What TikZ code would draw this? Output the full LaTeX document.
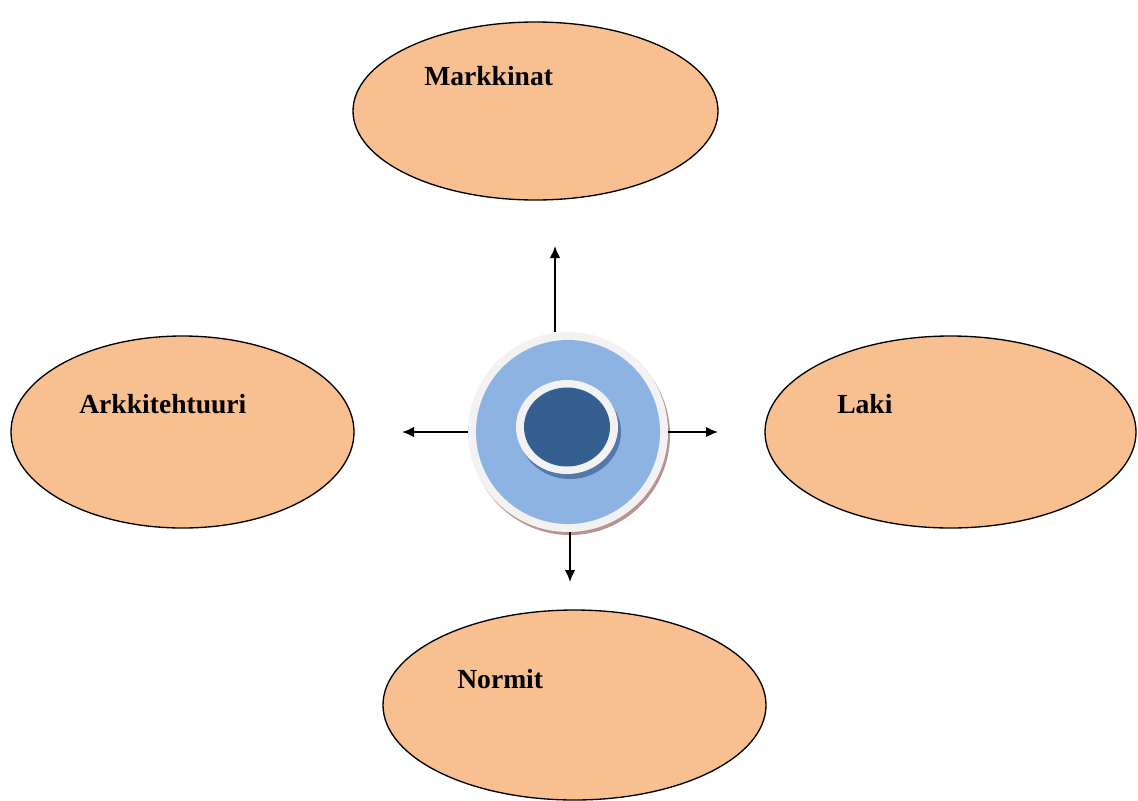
\documentclass[tikz,border=0pt]{standalone}
\usepackage{fontspec}
\setmainfont{Liberation Serif}
\usetikzlibrary{shapes.geometric,arrows.meta}

\definecolor{peach}{RGB}{248,192,144}
\definecolor{ringblue}{RGB}{141,179,226}
\definecolor{coreblue}{RGB}{54,95,145}
\definecolor{ringgray}{RGB}{242,242,242}
\definecolor{shadowred}{RGB}{185,145,145}
\definecolor{coreshadow}{RGB}{85,120,170}

\tikzset{
  bubble/.style={ellipse, draw=black, line width=1pt, fill=peach, inner sep=0pt, outer sep=0pt},
  tag/.style={anchor=base west, inner sep=0.75pt, font=\fontsize{20.7}{24}\selectfont\bfseries},
  disc/.style={ellipse, inner sep=0pt, outer sep=0pt},
  ray/.style={-{Latex[length=9pt,width=8pt]}, line width=1.5pt}
}

\begin{document}
\begin{tikzpicture}[x=0.75pt,y=0.75pt,yscale=-1,xscale=1]
\useasboundingbox (0,0) rectangle (1138,800);

% outer bubbles
\node (markkinat) [bubble, minimum width=273.75pt, minimum height=133.5pt] at (535.5,111) {};
\node (arkkitehtuuri) [bubble, minimum width=257.25pt, minimum height=144pt] at (182.5,432) {};
\node (laki) [bubble, minimum width=278.25pt, minimum height=144pt] at (950.5,432) {};
\node (normit) [bubble, minimum width=287.25pt, minimum height=142.5pt] at (574.5,705) {};

% text in bubbles
\node (markkinatlbl) [tag] at (423,85) {Markkinat};
\node (arkkitehtuurilbl) [tag] at (78,413) {Arkkitehtuuri};
\node (lakilbl) [tag] at (836,413) {Laki};
\node (normitlbl) [tag] at (456,688) {Normit};

% hub in the middle
\node (hubshadow) [disc, fill=shadowred, minimum width=150pt, minimum height=150pt] at (570,435) {};
\node (hub) [disc, fill=ringgray, minimum width=150pt, minimum height=150pt] at (568,432) {};
\node (hubring) [disc, fill=ringblue, minimum width=138pt, minimum height=138pt] at (568,432) {};
\node (coreshadow) [disc, fill=coreshadow, minimum width=76.5pt, minimum height=70.5pt] at (570,432) {};
\node (corering) [disc, fill=ringgray, minimum width=76.5pt, minimum height=70.5pt] at (567,427) {};
\node (core) [disc, fill=coreblue, minimum width=64.5pt, minimum height=59.25pt] at (567,427) {};

% arrow ends
\coordinate (upend) at (555,246);
\coordinate (leftend) at (402,432);
\coordinate (rightend) at (718,432);
\coordinate (downend) at (570,582);

% arrows
\draw [ray] (upend |- hub.north) -- (upend);
\draw [ray] (hub.west) -- (leftend);
\draw [ray] (hub.east) -- (rightend);
\draw [ray] (downend |- hub.south) -- (downend);

\end{tikzpicture}
\end{document}
